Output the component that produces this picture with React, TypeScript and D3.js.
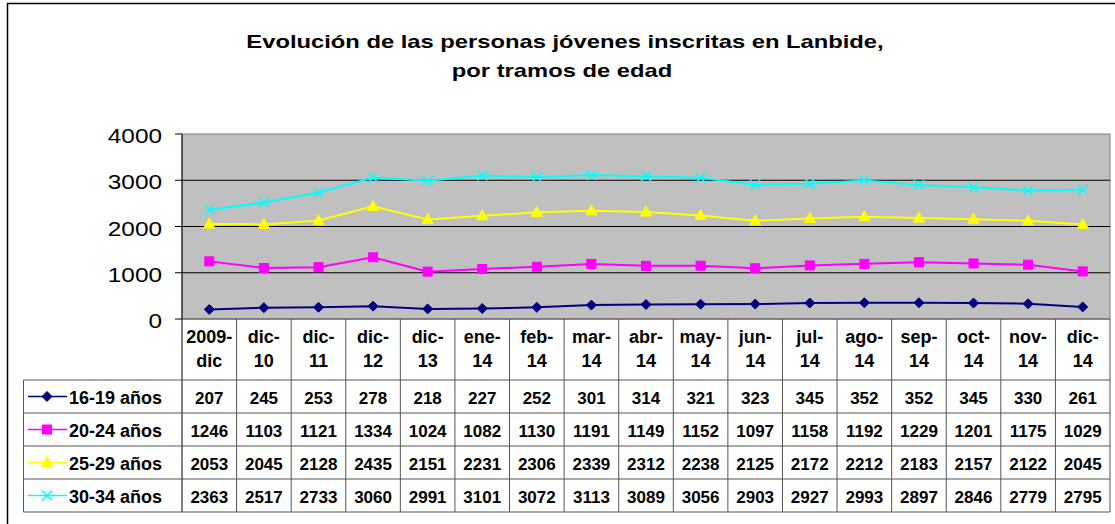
import React from "react";
import * as d3 from "d3";

const categories = ["2009-|dic", "dic-|10", "dic-|11", "dic-|12", "dic-|13", "ene-|14", "feb-|14", "mar-|14", "abr-|14", "may-|14", "jun-|14", "jul-|14", "ago-|14", "sep-|14", "oct-|14", "nov-|14", "dic-|14"];
const s1619 = [207, 245, 253, 278, 218, 227, 252, 301, 314, 321, 323, 345, 352, 352, 345, 330, 261];
const s2024 = [1246, 1103, 1121, 1334, 1024, 1082, 1130, 1191, 1149, 1152, 1097, 1158, 1192, 1229, 1201, 1175, 1029];
const s2529 = [2053, 2045, 2128, 2435, 2151, 2231, 2306, 2339, 2312, 2238, 2125, 2172, 2212, 2183, 2157, 2122, 2045];
const s3034 = [2363, 2517, 2733, 3060, 2991, 3101, 3072, 3113, 3089, 3056, 2903, 2927, 2993, 2897, 2846, 2779, 2795];
const seriesNames = ["16-19 años", "20-24 años", "25-29 años", "30-34 años"];
const yTicks = [0, 1000, 2000, 3000, 4000];

const series = [
  { name: seriesNames[0], values: s1619, color: "#000080", marker: "diamond" },
  { name: seriesNames[1], values: s2024, color: "#FF00FF", marker: "square" },
  { name: seriesNames[2], values: s2529, color: "#FFFF00", marker: "triangle" },
  { name: seriesNames[3], values: s3034, color: "#00FFFF", marker: "x" },
];

const PL = 182, PR = 1110, PT = 134, PB = 319;
const catBottom = 380;
const rowH = 33;
const tableLeft = 23.5;
const FONT = "Arial, 'Liberation Sans', sans-serif";

function Marker({ type, x, y, color }: { type: string; x: number; y: number; color: string }) {
  if (type === "diamond") {
    const r = 5;
    return <path d={`M${x},${y - r}L${x + r},${y}L${x},${y + r}L${x - r},${y}Z`} fill={color} stroke={color} />;
  }
  if (type === "square") {
    return <rect x={x - 4.5} y={y - 4.5} width={9} height={9} fill={color} stroke={color} />;
  }
  if (type === "triangle") {
    return <path d={`M${x},${y - 6}L${x + 5.5},${y + 4}L${x - 5.5},${y + 4}Z`} fill={color} stroke={color} />;
  }
  const r = 5;
  return (
    <path d={`M${x - r},${y - r}L${x + r},${y + r}M${x - r},${y + r}L${x + r},${y - r}`} stroke={color} strokeWidth={1.5} fill="none" />
  );
}

export default function App() {
  const x = d3.scaleBand<string>().domain(categories.map((_, i) => String(i))).range([PL, PR]);
  const y = d3.scaleLinear().domain([0, 4000]).range([PB, PT]);
  const cx = (i: number) => (x(String(i)) as number) + x.bandwidth() / 2;
  const line = d3.line<number>().x((_, i) => cx(i)).y((d) => y(d));
  const tableBottom = catBottom + rowH * series.length;

  return (
    <svg width={1115} height={524} style={{ display: "block", position: "absolute", left: 0, top: 0 }} fontFamily={FONT}>
      <rect x={0} y={0} width={1115} height={524} fill="#fff" />
      <rect x={7.5} y={3.5} width={1115} height={530} fill="#fff" stroke="#000" strokeWidth={1.5} />
      <text transform="translate(565,48) scale(1.25,1)" textAnchor="middle" fontSize={19} fontWeight="bold">Evolución de las personas jóvenes inscritas en Lanbide,</text>
      <text transform="translate(562,77) scale(1.25,1)" textAnchor="middle" fontSize={19} fontWeight="bold">por tramos de edad</text>

      <rect x={PL} y={PT} width={PR - PL} height={PB - PT} fill="#C0C0C0" stroke="#808080" strokeWidth={1} />
      {yTicks.map((t) => (
        <g key={t}>
          {t > 0 && t < 4000 && <line x1={PL} x2={PR} y1={y(t)} y2={y(t)} stroke="#000" strokeWidth={1} />}
          <line x1={PL - 7} x2={PL} y1={y(t)} y2={y(t)} stroke="#000" />
          <text transform={`translate(162,${y(t) + 9}) scale(1.25,1)`} textAnchor="end" fontSize={19.5}>{t}</text>
        </g>
      ))}
      <line x1={PL} x2={PL} y1={PT} y2={tableBottom} stroke="#000" />

      {series.map((s) => (
        <g key={s.name}>
          <path d={line(s.values) || ""} fill="none" stroke={s.color} strokeWidth={2} />
          {s.values.map((v, i) => (
            <Marker key={i} type={s.marker} x={cx(i)} y={y(v)} color={s.color} />
          ))}
        </g>
      ))}

      {categories.map((c, i) => {
        const [a, b] = c.split("|");
        return (
          <g key={i}>
            <text x={cx(i)} y={343} textAnchor="middle" fontSize={18} fontWeight="bold">{a}</text>
            <text x={cx(i)} y={367} textAnchor="middle" fontSize={18} fontWeight="bold">{b}</text>
          </g>
        );
      })}

      <line x1={PR} x2={PR} y1={PB} y2={tableBottom} stroke="#555" />
      <line x1={PL} x2={PR} y1={PB} y2={PB} stroke="#555" />
      {categories.map((_, i) =>
        i > 0 ? <line key={i} x1={x(String(i)) as number} x2={x(String(i)) as number} y1={PB} y2={tableBottom} stroke="#555" /> : null
      )}
      <line x1={tableLeft} x2={tableLeft} y1={catBottom} y2={tableBottom} stroke="#555" />
      {d3.range(series.length + 1).map((r) => (
        <line key={r} x1={tableLeft} x2={PR} y1={catBottom + r * rowH} y2={catBottom + r * rowH} stroke="#555" />
      ))}
      {series.map((s, r) => {
        const ry = catBottom + r * rowH + rowH / 2;
        return (
          <g key={s.name}>
            <line x1={28} x2={67} y1={ry} y2={ry} stroke={s.color} strokeWidth={1.5} />
            <Marker type={s.marker} x={47} y={ry} color={s.color} />
            <text x={69} y={ry + 7} fontSize={18} fontWeight="bold">{s.name}</text>
            {s.values.map((v, i) => (
              <text key={i} x={cx(i)} y={ry + 7} textAnchor="middle" fontSize={17} fontWeight="bold">{v}</text>
            ))}
          </g>
        );
      })}
    </svg>
  );
}
